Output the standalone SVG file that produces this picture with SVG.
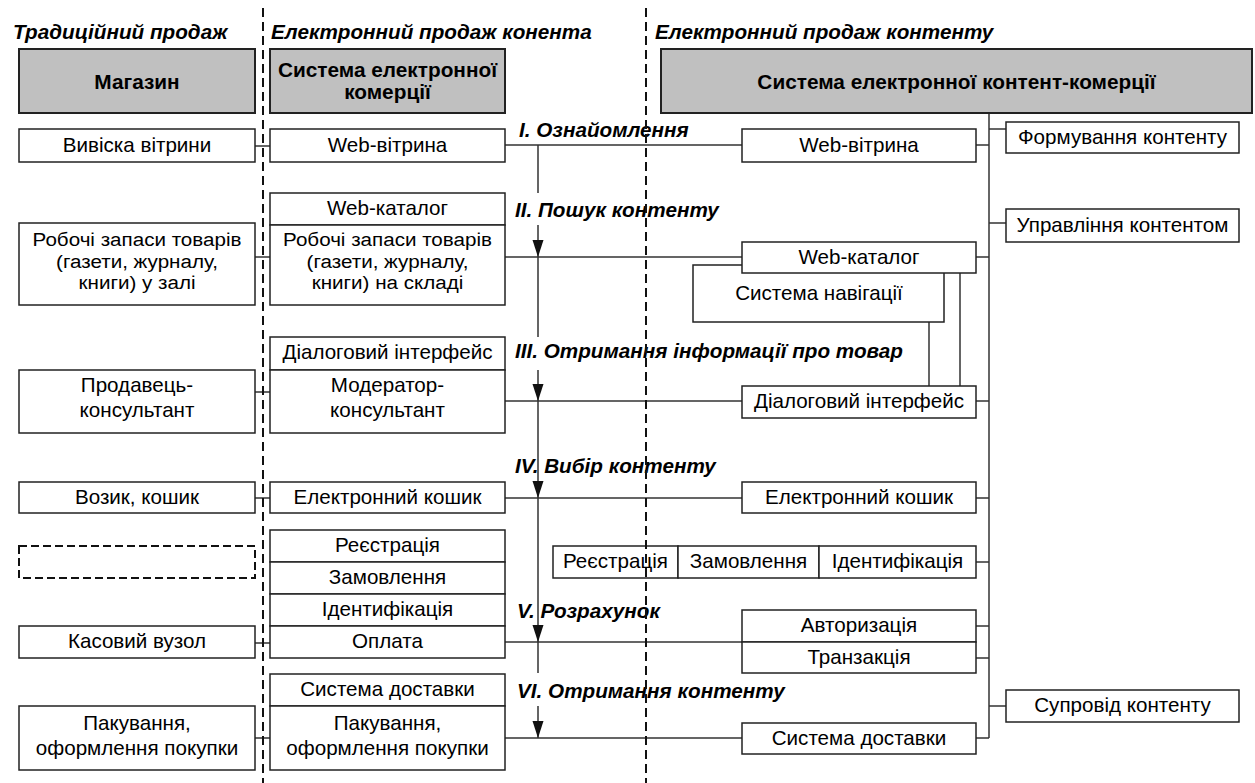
<svg xmlns="http://www.w3.org/2000/svg" width="1255" height="783" viewBox="0 0 1255 783">
<style>
text{font-family:"Liberation Sans",Arial,sans-serif;fill:#000}
.t{font-size:20.6px;text-anchor:middle}
.ts{font-size:18.4px;text-anchor:middle}
.h{font-size:20.8px;font-weight:bold;text-anchor:middle}
.lb{font-size:20.7px;font-weight:bold;font-style:italic}
.box{fill:#fff;stroke:#222;stroke-width:1.5}
.hdr{fill:#c0c0c0;stroke:#222;stroke-width:2}
.ln{stroke:#333;stroke-width:1.5;fill:none}
.dash{stroke:#111;stroke-width:2;stroke-dasharray:9 5;fill:none}
.ar{fill:#111}
</style>
<rect width="1255" height="783" fill="#fff"/>

<!-- column titles -->
<text class="lb" x="13" y="39">Традиційний продаж</text>
<text class="lb" x="271" y="39">Електронний продаж конента</text>
<text class="lb" x="655" y="39">Електронний продаж контенту</text>

<!-- connectors -->
<g id="connectors">
  <!-- col1 - col2 -->
  <path class="ln" d="M255 146H270M255 257H270M255 392H270M255 498H270M255 643H270M255 738H270"/>
  <!-- col2 - col3 -->
  <path class="ln" d="M505 145H742M505 257H742M505 401H742M505 498H742M505 642H742M505 738H742"/>
  <!-- process line -->
  <path class="ln" d="M538 145V193M538 225V337M538 370V673M538 706V738"/>
  <polygon class="ar" points="532.5,240 543.5,240 538,257"/>
  <polygon class="ar" points="532.5,384 543.5,384 538,401"/>
  <polygon class="ar" points="532.5,481 543.5,481 538,498"/>
  <polygon class="ar" points="532.5,625 543.5,625 538,642"/>
  <polygon class="ar" points="532.5,721 543.5,721 538,738"/>
  <!-- trunk -->
  <path class="ln" d="M989 113V738"/>
  <path class="ln" d="M976 145H989M976 257H989M976 401H989M976 498H989M976 562H989M976 626H989M976 658H989M976 738H989"/>
  <path class="ln" d="M989 129H1006M989 223H1006M989 706H1006"/>
  <!-- navigation links -->
  <path class="ln" d="M929 322V386M960 273V386"/>
</g>

<!-- column 1 -->
<g id="n-magazyn"><rect class="hdr" x="19" y="49" width="236" height="64"/><text class="h" x="137" y="89">Магазин</text></g>
<g id="n-vyviska"><rect class="box" x="19" y="129" width="236" height="33"/><text class="t" x="137" y="152">Вивіска вітрини</text></g>
<g id="n-zapasy1"><rect class="box" x="19" y="223" width="236" height="82"/>
  <text class="ts" transform="translate(137 246) scale(1.12 1)">Робочі запаси товарів</text>
  <text class="ts" transform="translate(137 267.5) scale(1.12 1)">(газети, журналу,</text>
  <text class="ts" transform="translate(137 289) scale(1.12 1)">книги) у залі</text></g>
<g id="n-prodavets"><rect class="box" x="19" y="370" width="236" height="63"/>
  <text class="t" x="137" y="392">Продавець-</text>
  <text class="t" x="137" y="417">консультант</text></g>
<g id="n-vozyk"><rect class="box" x="19" y="482" width="236" height="31"/><text class="t" x="137" y="504">Возик, кошик</text></g>
<g id="n-empty"><rect x="19" y="546" width="236" height="32" fill="#fff" stroke="#111" stroke-width="2" stroke-dasharray="8 4"/></g>
<g id="n-kasa"><rect class="box" x="19" y="626" width="236" height="32"/><text class="t" x="137" y="648">Касовий вузол</text></g>
<g id="n-pakuvannia1"><rect class="box" x="19" y="706" width="236" height="64"/>
  <text class="t" x="137" y="730">Пакування,</text>
  <text class="t" x="137" y="755">оформлення покупки</text></g>

<!-- column 2 -->
<g id="n-ecom"><rect class="hdr" x="270" y="49" width="235" height="64"/>
  <text class="h" x="387.5" y="77">Система електронної</text>
  <text class="h" x="387.5" y="99">комерції</text></g>
<g id="n-webvitryna2"><rect class="box" x="270" y="129" width="235" height="33"/><text class="t" x="387.5" y="152">Web-вітрина</text></g>
<g id="n-webkatalog2"><rect class="box" x="270" y="193" width="235" height="32"/><text class="t" x="387.5" y="215">Web-каталог</text></g>
<g id="n-zapasy2"><rect class="box" x="270" y="225" width="235" height="80"/>
  <text class="ts" transform="translate(387.5 246) scale(1.12 1)">Робочі запаси товарів</text>
  <text class="ts" transform="translate(387.5 267.5) scale(1.12 1)">(газети, журналу,</text>
  <text class="ts" transform="translate(387.5 289) scale(1.12 1)">книги) на складі</text></g>
<g id="n-dialog2"><rect class="box" x="270" y="337" width="235" height="33"/><text class="t" x="387.5" y="359">Діалоговий інтерфейс</text></g>
<g id="n-moderator"><rect class="box" x="270" y="370" width="235" height="63"/>
  <text class="t" x="387.5" y="392">Модератор-</text>
  <text class="t" x="387.5" y="417">консультант</text></g>
<g id="n-koshyk2"><rect class="box" x="270" y="482" width="235" height="31"/><text class="t" x="387.5" y="504">Електронний кошик</text></g>
<g id="n-reiestr2"><rect class="box" x="270" y="530" width="235" height="32"/><text class="t" x="387.5" y="552">Реєстрація</text></g>
<g id="n-zamovl2"><rect class="box" x="270" y="562" width="235" height="32"/><text class="t" x="387.5" y="584">Замовлення</text></g>
<g id="n-ident2"><rect class="box" x="270" y="594" width="235" height="32"/><text class="t" x="387.5" y="616">Ідентифікація</text></g>
<g id="n-oplata"><rect class="box" x="270" y="626" width="235" height="32"/><text class="t" x="387.5" y="648">Оплата</text></g>
<g id="n-dostavka2"><rect class="box" x="270" y="674" width="235" height="32"/><text class="t" x="387.5" y="696">Система доставки</text></g>
<g id="n-pakuvannia2"><rect class="box" x="270" y="706" width="235" height="64"/>
  <text class="t" x="387.5" y="730">Пакування,</text>
  <text class="t" x="387.5" y="755">оформлення покупки</text></g>

<!-- stage labels -->
<g id="labels">
  <text class="lb" x="519" y="137">I. Ознайомлення</text>
  <text class="lb" x="515" y="217">II. Пошук контенту</text>
  <text class="lb" x="515" y="358">III. Отримання інформації про товар</text>
  <text class="lb" x="515" y="473">IV. Вибір контенту</text>
  <text class="lb" x="517" y="618">V. Розрахунок</text>
  <text class="lb" x="517" y="698">VI. Отримання контенту</text>
</g>

<!-- column 3 -->
<g id="n-content-ecom"><rect class="hdr" x="661" y="49" width="591" height="64"/><text class="h" x="956.5" y="89">Система електронної контент-комерції</text></g>
<g id="n-webvitryna3"><rect class="box" x="742" y="129" width="234" height="33"/><text class="t" x="859" y="152">Web-вітрина</text></g>
<g id="n-navigatsiia"><rect class="box" x="693" y="265" width="251" height="57"/><text class="t" x="819" y="300">Система навігації</text></g>
<g id="n-webkatalog3"><rect class="box" x="742" y="242" width="234" height="31"/><text class="t" x="859" y="264">Web-каталог</text></g>
<g id="n-dialog3"><rect class="box" x="742" y="386" width="234" height="32"/><text class="t" x="859" y="408">Діалоговий інтерфейс</text></g>
<g id="n-koshyk3"><rect class="box" x="742" y="482" width="234" height="31"/><text class="t" x="859" y="504">Електронний кошик</text></g>
<g id="n-row3">
  <rect class="box" x="553" y="546" width="125" height="32"/><text class="t" x="615.5" y="568">Реєстрація</text>
  <rect class="box" x="678" y="546" width="141" height="32"/><text class="t" x="748.5" y="568">Замовлення</text>
  <rect class="box" x="819" y="546" width="157" height="32"/><text class="t" x="897.5" y="568">Ідентифікація</text>
</g>
<g id="n-avtoryz"><rect class="box" x="742" y="610" width="234" height="32"/><text class="t" x="859" y="632">Авторизація</text></g>
<g id="n-tranz"><rect class="box" x="742" y="642" width="234" height="31"/><text class="t" x="859" y="664">Транзакція</text></g>
<g id="n-dostavka3"><rect class="box" x="742" y="723" width="234" height="31"/><text class="t" x="859" y="745">Система доставки</text></g>

<!-- right side -->
<g id="n-formuv"><rect class="box" x="1006" y="122" width="233" height="31"/><text class="t" x="1122.5" y="144">Формування контенту</text></g>
<g id="n-upravl"><rect class="box" x="1006" y="209" width="233" height="33"/><text class="t" x="1122.5" y="232">Управління контентом</text></g>
<g id="n-suprovid"><rect class="box" x="1006" y="690" width="233" height="32"/><text class="t" x="1122.5" y="712">Супровід контенту</text></g>

<!-- section dividers -->
<path class="dash" d="M263 8V783M646 8V783"/>
</svg>
